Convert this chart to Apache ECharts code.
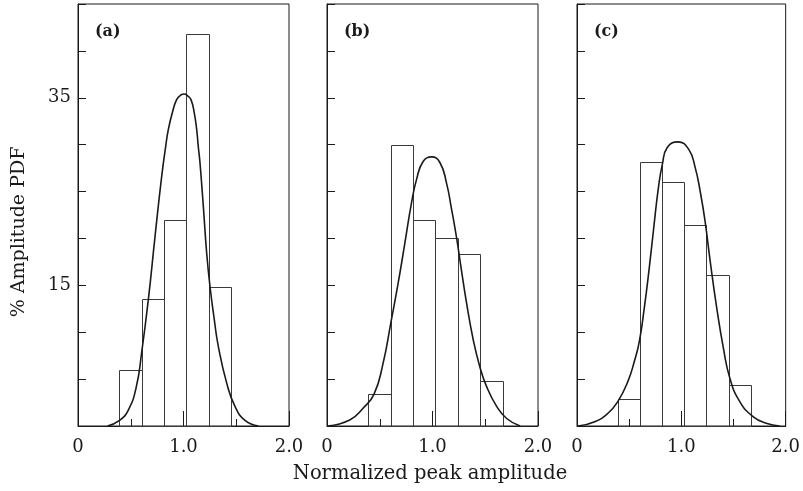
<!DOCTYPE html>
<html>
<head>
<meta charset="utf-8">
<script src="https://cdn.jsdelivr.net/npm/echarts@6/dist/echarts.min.js"></script>
<style>html,body{margin:0;padding:0;background:#fff}#c{width:803px;height:491px}</style>
</head>
<body>
<div id="c"></div>
<script>
// ---- data ----
const panelLabels = ['(a)', '(b)', '(c)'];
const binEdges = [0.39, 0.6025, 0.815, 1.0275, 1.24, 1.4525, 1.665];
const pdfA = [6.0, 13.5, 22.0, 41.8, 14.8];
const pdfB = [3.4, 30.0, 22.0, 20.0, 18.3, 4.8];
const pdfC = [2.9, 28.2, 26.0, 21.4, 16.1, 4.4];

const curveAx = [0.28, 0.39, 0.477, 0.553, 0.603, 0.667, 0.73, 0.793, 0.831, 0.856, 0.894, 0.935, 0.975, 1.008, 1.04, 1.071, 1.102, 1.125, 1.14, 1.156, 1.188, 1.22, 1.251, 1.29, 1.33, 1.409, 1.488, 1.583, 1.71];
const curveAy = [0, 0.57, 1.7, 4.2, 7.8, 13.5, 20.2, 26.6, 29.8, 31.6, 33.4, 34.8, 35.3, 35.4, 35.2, 34.8, 33.4, 31.6, 29.8, 28.1, 23.4, 18.4, 14.9, 11.5, 8.5, 4.6, 2.1, 0.6, 0];

const curveBx = [0.01, 0.215, 0.342, 0.446, 0.532, 0.605, 0.674, 0.738, 0.801, 0.849, 0.911, 0.991, 1.07, 1.133, 1.181, 1.228, 1.26, 1.323, 1.386, 1.449, 1.513, 1.608, 1.703, 1.83];
const curveBy = [0, 0.64, 1.9, 3.4, 6.7, 11.0, 15.2, 19.5, 23.8, 26.3, 28.2, 28.7, 28.1, 25.9, 23.1, 20.1, 17.7, 13.1, 9.2, 6.3, 4.2, 2.1, 0.8, 0];

const curveCx = [0.01, 0.17, 0.297, 0.391, 0.486, 0.55, 0.597, 0.645, 0.692, 0.739, 0.78, 0.818, 0.865, 0.967, 1.071, 1.134, 1.181, 1.228, 1.276, 1.339, 1.403, 1.465, 1.56, 1.687, 1.813, 1.94];
const curveCy = [0, 0.46, 1.36, 2.6, 4.7, 6.9, 9.0, 12.6, 16.8, 21.5, 25.4, 27.9, 29.7, 30.3, 29.5, 27.5, 25.0, 21.8, 17.6, 12.6, 8.3, 5.1, 2.6, 1.0, 0.3, 0];

const yTickLabels = [15, 35];
const xTickLabels = { 0: '0', 1: '1.0', 2: '2.0' };
const yTitle = '% Amplitude PDF';
const xTitle = 'Normalized peak amplitude';

// ---- build ----
const FONT = 'DejaVu Serif';
const INK = '#1a1a1a';
const gridLefts = [78, 327, 577];
const pdfs = [pdfA, pdfB, pdfC];
const curves = [[curveAx, curveAy], [curveBx, curveBy], [curveCx, curveCy]];

const grids = [], xAxes = [], yAxes = [], series = [];
gridLefts.forEach((left, i) => {
  grids.push({ left: left, width: 211, top: 4, height: 422, show: true, borderColor: INK, borderWidth: 1, backgroundColor: 'transparent' });
  xAxes.push({
    type: 'value', gridIndex: i, min: 0, max: 2, interval: 0.5,
    axisLine: { show: true, lineStyle: { color: INK, width: 1 } },
    axisTick: { show: true, inside: true, length: 7, lineStyle: { color: INK } },
    splitLine: { show: false },
    axisLabel: {
      margin: 12, color: INK, fontFamily: FONT, fontSize: 18,
      formatter: v => (xTickLabels[v] !== undefined ? xTickLabels[v] : '')
    }
  });
  yAxes.push({
    type: 'value', gridIndex: i, min: 0, max: 45, interval: 5,
    axisLine: { show: true, lineStyle: { color: INK, width: 1 } },
    axisTick: { show: true, inside: true, length: 8, lineStyle: { color: INK } },
    splitLine: { show: false },
    axisLabel: {
      show: i === 0, margin: 7, color: INK, fontFamily: FONT, fontSize: 18,
      formatter: v => (yTickLabels.indexOf(v) >= 0 ? String(v) : '')
    }
  });
});
// overlay axes for the longer 1.0 tick
gridLefts.forEach((left, i) => {
  xAxes.push({
    type: 'value', gridIndex: i, min: 0, max: 2, interval: 1, position: 'bottom',
    axisLine: { show: false }, splitLine: { show: false }, axisLabel: { show: false },
    axisTick: { show: true, inside: true, length: 15, lineStyle: { color: INK } }
  });
});

pdfs.forEach((vals, i) => {
  const data = vals.map((v, k) => [binEdges[k], binEdges[k + 1], v]);
  series.push({
    type: 'custom', xAxisIndex: i, yAxisIndex: i,
    encode: { x: [0, 1], y: 2 },
    data: data,
    renderItem: function (params, api) {
      const p0 = api.coord([api.value(0), api.value(2)]);
      const p1 = api.coord([api.value(1), 0]);
      const x0 = Math.round(p0[0]) + 0.5, x1 = Math.round(p1[0]) + 0.5;
      const y0 = Math.round(p0[1]) + 0.5, y1 = Math.round(p1[1]) + 0.5;
      return {
        type: 'rect',
        shape: { x: x0, y: y0, width: x1 - x0, height: y1 - y0 },
        style: { fill: 'none', stroke: '#3a3a3a', lineWidth: 1 }
      };
    },
    z: 2
  });
  const cx = curves[i][0], cy = curves[i][1];
  series.push({
    type: 'line', xAxisIndex: i, yAxisIndex: i,
    data: cx.map((x, k) => [x, cy[k]]),
    smooth: 0.5, showSymbol: false, symbol: 'none',
    lineStyle: { color: INK, width: 1.6 },
    z: 3
  });
});

const graphics = [];
panelLabels.forEach((t, i) => {
  graphics.push({ type: 'text', left: gridLefts[i] + 17, top: 24,
    style: { text: t, fontFamily: FONT, fontSize: 16, fontWeight: 'bold', fill: INK } });
});
graphics.push({ type: 'text', x: 19, y: 232, rotation: Math.PI / 2,
  style: { text: yTitle, fontFamily: FONT, fontSize: 19, fill: INK, align: 'center', verticalAlign: 'middle' } });
graphics.push({ type: 'text', x: 430, y: 474,
  style: { text: xTitle, fontFamily: FONT, fontSize: 19.5, fill: INK, align: 'center', verticalAlign: 'middle' } });

const chart = echarts.init(document.getElementById('c'), null, { renderer: 'canvas' });
chart.setOption({
  animation: false,
  backgroundColor: '#fff',
  grid: grids, xAxis: xAxes, yAxis: yAxes, series: series, graphic: graphics
});
</script>
</body>
</html>
